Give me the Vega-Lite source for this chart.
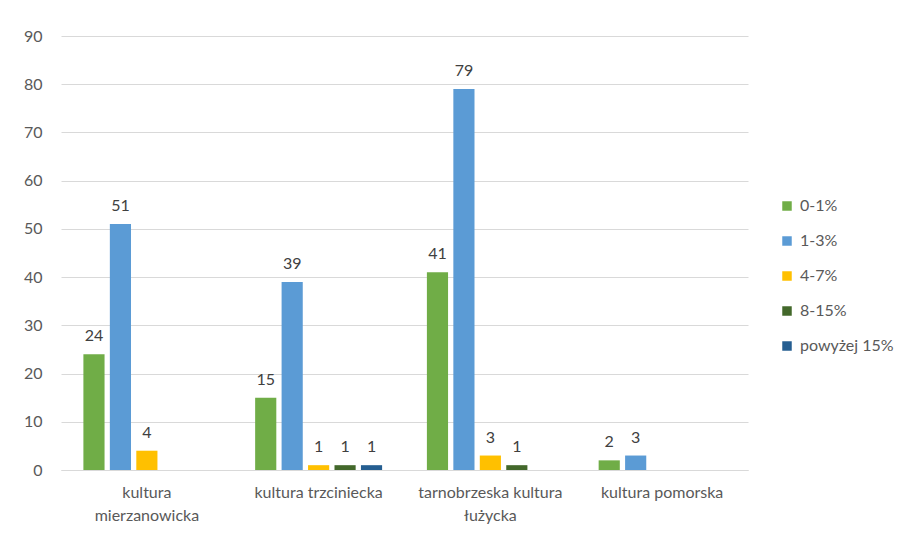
{
  "$schema": "https://vega.github.io/schema/vega-lite/v6.json",
  "width": 687,
  "height": 434,
  "autosize": "none",
  "padding": {"left": 61, "top": 36, "right": 158, "bottom": 66},
  "background": "white",
  "config": {
    "view": {"stroke": null},
    "font": "Lato",
    "axis": {"labelFont": "Lato", "labelColor": "#595959", "labelFontSize": 16}
  },
  "data": {
    "values": [
      {"kultura": "kultura mierzanowicka", "zakres": "0-1%", "n": 24},
      {"kultura": "kultura mierzanowicka", "zakres": "1-3%", "n": 51},
      {"kultura": "kultura mierzanowicka", "zakres": "4-7%", "n": 4},
      {"kultura": "kultura trzciniecka", "zakres": "0-1%", "n": 15},
      {"kultura": "kultura trzciniecka", "zakres": "1-3%", "n": 39},
      {"kultura": "kultura trzciniecka", "zakres": "4-7%", "n": 1},
      {"kultura": "kultura trzciniecka", "zakres": "8-15%", "n": 1},
      {"kultura": "kultura trzciniecka", "zakres": "powyżej 15%", "n": 1},
      {"kultura": "tarnobrzeska kultura łużycka", "zakres": "0-1%", "n": 41},
      {"kultura": "tarnobrzeska kultura łużycka", "zakres": "1-3%", "n": 79},
      {"kultura": "tarnobrzeska kultura łużycka", "zakres": "4-7%", "n": 3},
      {"kultura": "tarnobrzeska kultura łużycka", "zakres": "8-15%", "n": 1},
      {"kultura": "kultura pomorska", "zakres": "0-1%", "n": 2},
      {"kultura": "kultura pomorska", "zakres": "1-3%", "n": 3}
    ]
  },
  "encoding": {
    "x": {
      "field": "kultura",
      "type": "nominal",
      "sort": ["kultura mierzanowicka", "kultura trzciniecka", "tarnobrzeska kultura łużycka", "kultura pomorska"],
      "scale": {"paddingInner": 0.23, "paddingOuter": 0.115},
      "axis": {
        "title": null,
        "labelAngle": 0,
        "ticks": false,
        "domainColor": "#D9D9D9",
        "labelPadding": 22,
        "labelLineHeight": 23,
        "labelBaseline": "middle",
        "labelExpr": "datum.value == 'kultura mierzanowicka' ? ['kultura', 'mierzanowicka'] : datum.value == 'tarnobrzeska kultura łużycka' ? ['tarnobrzeska kultura', 'łużycka'] : datum.value"
      }
    },
    "xOffset": {
      "field": "zakres",
      "type": "nominal",
      "scale": {"domain": ["0-1%", "1-3%", "4-7%", "8-15%", "powyżej 15%"], "paddingInner": 0.2, "paddingOuter": 0.1}
    },
    "y": {
      "field": "n",
      "type": "quantitative",
      "scale": {"domain": [0, 90]},
      "axis": {
        "title": null,
        "values": [0, 10, 20, 30, 40, 50, 60, 70, 80, 90],
        "domain": false,
        "ticks": false,
        "gridColor": "#D9D9D9",
        "labelPadding": 19
      }
    }
  },
  "layer": [
    {
      "mark": {"type": "bar"},
      "encoding": {
        "color": {
          "field": "zakres",
          "type": "nominal",
          "scale": {
            "domain": ["0-1%", "1-3%", "4-7%", "8-15%", "powyżej 15%"],
            "range": ["#70AD47", "#5B9BD5", "#FFC000", "#43682B", "#255E91"]
          },
          "legend": {
            "title": null,
            "orient": "none",
            "legendX": 718,
            "legendY": 162,
            "symbolType": "square",
            "symbolSize": 90,
            "symbolStrokeWidth": 0,
            "labelFont": "Lato",
            "labelFontSize": 16,
            "labelColor": "#595959",
            "rowPadding": 19,
            "labelOffset": 5
          }
        }
      }
    },
    {
      "mark": {"type": "text", "baseline": "bottom", "dy": -10, "font": "Lato", "fontSize": 16, "color": "#404040"},
      "encoding": {"text": {"field": "n", "type": "quantitative"}}
    }
  ]
}
